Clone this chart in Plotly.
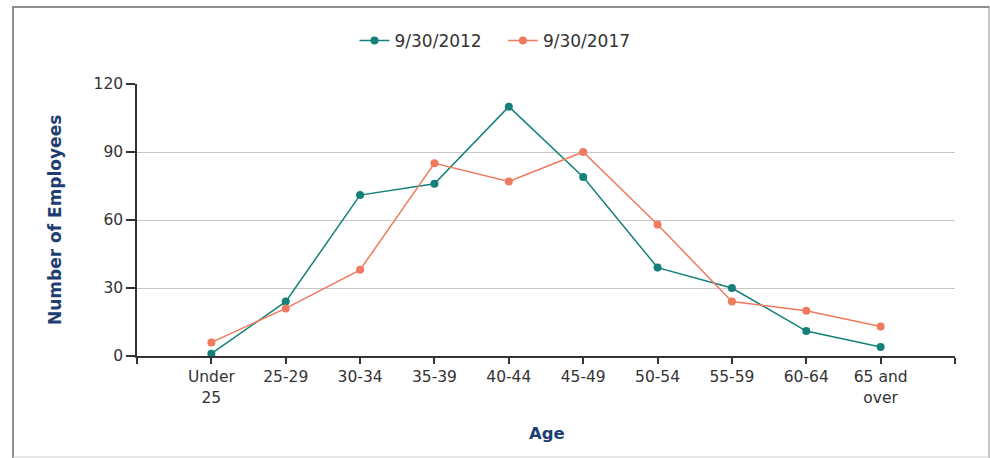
import plotly.graph_objects as go

# Age bands along the x axis
age_groups = ["Under<br>25", "25-29", "30-34", "35-39", "40-44", "45-49",
              "50-54", "55-59", "60-64", "65 and<br>over"]

# Headcount per age band at each date
employees_2012 = [1, 24, 71, 76, 110, 79, 39, 30, 11, 4]
employees_2017 = [6, 21, 38, 85, 77, 90, 58, 24, 20, 13]

series_names = ["9/30/2012", "9/30/2017"]
y_ticks = [0, 30, 60, 90, 120]

TEAL = "#13807a"
CORAL = "#f07a5e"
TITLE_BLUE = "#1e3e72"
FONT = "DejaVu Sans"

W, H = 990, 458
L, R, T, B = 137, 35, 84, 102
pw, ph = W - L - R, H - T - B

x_pos = list(range(len(age_groups)))

fig = go.Figure()
for name, vals, col in [(series_names[0], employees_2012, TEAL),
                        (series_names[1], employees_2017, CORAL)]:
    fig.add_trace(go.Scatter(
        x=x_pos, y=vals, name=name + "   ", mode="lines+markers",
        line=dict(color=col, width=1.5),
        marker=dict(color=col, size=8),
        cliponaxis=False,
    ))

tickvals = [-1] + x_pos + [len(age_groups)]
ticktext = [""] + age_groups + [""]


def px_x(p):
    return (p - L) / pw


def px_y(p):
    return (H - B - p) / ph


fig.update_layout(
    width=W, height=H,
    margin=dict(l=L, r=R, t=T, b=B),
    paper_bgcolor="white", plot_bgcolor="white",
    font=dict(family=FONT, size=15, color="#333333"),
    showlegend=True,
    legend=dict(orientation="h", x=px_x(503), y=px_y(41),
                xanchor="center", yanchor="middle",
                font=dict(family=FONT, size=17, color="#333333"),
                itemwidth=30, bgcolor="rgba(0,0,0,0)"),
    xaxis=dict(range=[-1, len(age_groups)], tickmode="array",
               tickvals=tickvals, ticktext=ticktext,
               showgrid=False, zeroline=False,
               showline=True, linecolor="#333333", linewidth=1.5,
               ticks="outside", ticklen=6, tickwidth=1.5, tickcolor="#333333",
               tickfont=dict(family=FONT, size=15.5, color="#333333")),
    yaxis=dict(range=[0, 120], tickmode="array", tickvals=y_ticks,
               showgrid=True, gridcolor="#c8c8c8", gridwidth=1,
               zeroline=False,
               showline=True, linecolor="#333333", linewidth=1.5,
               ticks="outside", ticklen=9, tickwidth=1.5, tickcolor="#333333",
               tickfont=dict(family=FONT, size=15.5, color="#333333")),
    annotations=[
        dict(text="<b>Number of Employees</b>", textangle=-90,
             xref="paper", yref="paper", x=px_x(55), y=px_y(220),
             xanchor="center", yanchor="middle", showarrow=False,
             font=dict(family=FONT, size=17, color=TITLE_BLUE)),
        dict(text="<b>Age</b>",
             xref="paper", yref="paper", x=px_x(547), y=px_y(434),
             xanchor="center", yanchor="middle", showarrow=False,
             font=dict(family=FONT, size=16.5, color=TITLE_BLUE)),
    ],
    shapes=[
        # outer frame around the chart
        dict(type="line", xref="paper", yref="paper",
             x0=px_x(13), x1=px_x(13), y0=px_y(6), y1=px_y(458),
             line=dict(color="#8a8f94", width=2)),
        dict(type="line", xref="paper", yref="paper",
             x0=px_x(12), x1=px_x(989), y0=px_y(7), y1=px_y(7),
             line=dict(color="#8a8f94", width=2)),
        dict(type="line", xref="paper", yref="paper",
             x0=px_x(989), x1=px_x(989), y0=px_y(6), y1=px_y(458),
             line=dict(color="#8a8f94", width=1)),
        dict(type="line", xref="paper", yref="paper",
             x0=px_x(13), x1=px_x(989), y0=px_y(457), y1=px_y(457),
             line=dict(color="#d0d0d0", width=1)),
    ],
)

fig.write_html("out.html")
